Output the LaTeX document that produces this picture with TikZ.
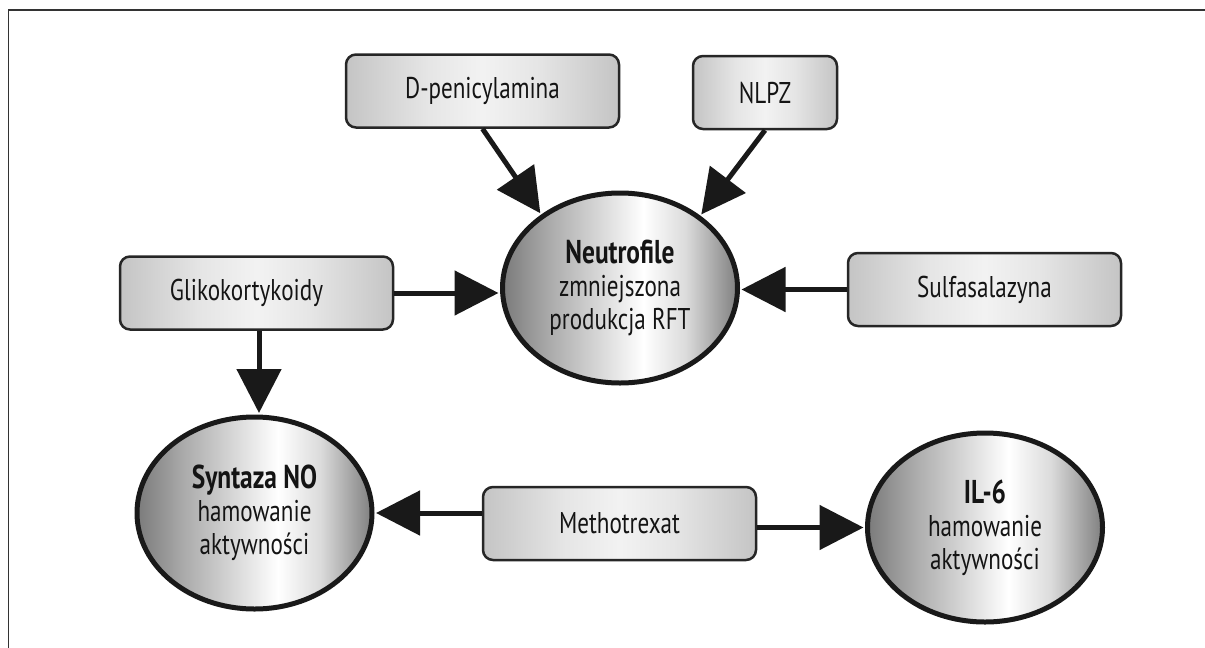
\documentclass[tikz,border=0pt]{standalone}
\usepackage{fontspec}
\setmainfont{PT Sans}[FakeStretch=0.77]
\usetikzlibrary{arrows.meta,shapes.geometric}
\pgfdeclarehorizontalshading{boxsh}{100bp}{color(0bp)=(black!23); color(25bp)=(black!23); color(40bp)=(black!10); color(50bp)=(black!5); color(60bp)=(black!10); color(75bp)=(black!23); color(100bp)=(black!23)}
\pgfdeclarehorizontalshading{ellsh}{100bp}{color(0bp)=(black!52); color(25bp)=(black!52); color(35bp)=(black!33); color(55bp)=(white); color(64bp)=(black!14); color(75bp)=(black!50); color(100bp)=(black!50)}
\tikzset{
  drug/.style={draw=black!85, line width=2.5pt, rounded corners=10pt, shade, shading=boxsh,
    minimum width=273pt, minimum height=73pt, inner sep=0pt,
    font=\fontsize{30}{34}\selectfont, text=black!92},
  eff/.style={ellipse, draw=black!90, line width=5pt, shade, shading=ellsh,
    minimum width=235pt, minimum height=190pt, inner sep=0pt, align=center,
    font=\fontsize{30}{33}\selectfont, text=black!92},
  arr/.style={line width=5pt, draw=black!90, shorten >=1.5pt, -{Triangle[length=44pt,width=44pt]}}
}
\newcommand{\hdfont}{\bfseries\fontsize{33}{35}\selectfont}
\begin{document}
\begin{tikzpicture}[x=1pt, y=-1pt]
\useasboundingbox (0,0) rectangle (1205,648);
\draw[black!80, line width=1.5pt] (8.5,648) -- (8.5,10) -- (1205,10);

\node[drug] (dpen) at (482.5,91) {D-penicylamina};
\node[drug, minimum width=144pt] (nlpz) at (765,92.5) {NLPZ};
\node[drug] (glik) at (256.5,293) {Glikokortykoidy\hspace*{20pt}};
\node[drug] (sulf) at (984.5,289.5) {Sulfasalazyna};
\node[drug] (meth) at (619.5,523.5) {Methotrexat};

\node[eff] (neu) at (620,288) {{\hdfont Neutrofile}\\ zmniejszona\\ produkcja RFT};
\node[eff, minimum height=192pt] (syn) at (254.5,513) {{\hdfont Syntaza NO}\\ hamowanie\\ aktywności};
\node[eff, minimum height=189pt] (il6) at (985,527.5) {{\hdfont IL-6}\\ hamowanie\\ aktywności};

\draw[arr] (dpen.south) -- (neu.137);
\draw[arr] (nlpz.south) -- (neu.42);
\draw[arr] (glik.east) -- (glik.east -| neu.west);
\draw[arr] (sulf.west) -- (sulf.west -| neu.east);
\draw[arr] ([xshift=2.5pt]glik.south) -- ([xshift=2.5pt]glik.south |- syn.north);
\draw[arr] (meth.west |- syn.east) -- (syn.east);
\draw[arr] (meth.east |- il6.west) -- (il6.west);
\end{tikzpicture}
\end{document}
